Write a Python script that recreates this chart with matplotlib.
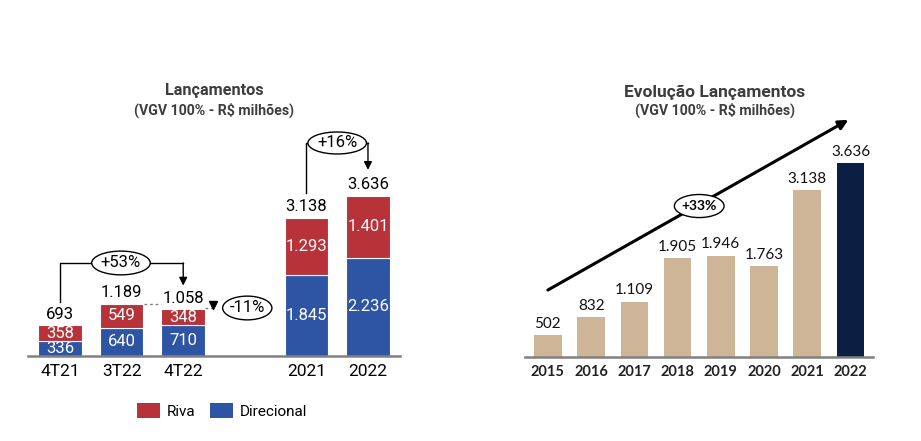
import matplotlib.pyplot as plt
from matplotlib.patches import Ellipse, Patch

# left chart data
periods = ['4T21', '3T22', '4T22', '2021', '2022']
pos = [0, 1, 2, 4, 5]
direcional = [336, 640, 710, 1845, 2236]
riva = [358, 549, 348, 1293, 1401]
totais = ['693', '1.189', '1.058', '3.138', '3.636']
totais_val = [693, 1189, 1058, 3138, 3636]

# right chart data
anos = ['2015', '2016', '2017', '2018', '2019', '2020', '2021', '2022']
lanc = [502, 832, 1109, 1905, 1946, 1763, 3138, 3636]

RED = '#B73239'
BLUE = '#2E55A4'
BEIGE = '#CFB597'
NAVY = '#0B1F45'
GRAY = '#808080'
TITLE = '#3d3d3d'

def fmt(v):
    return f'{v:,}'.replace(',', '.')

fig = plt.figure(figsize=(9.21, 4.41), dpi=100)

# ---------------- left: Lançamentos ----------------
ax = fig.add_axes([28/921, 85/441, 372/921, 296/441])
ax.bar(pos, direcional, width=0.71, color=BLUE, edgecolor='white', linewidth=0.8)
ax.bar(pos, riva, width=0.71, bottom=direcional, color=RED, edgecolor='white', linewidth=0.8)
for x, d, r, t, tv in zip(pos, direcional, riva, totais, totais_val):
    ax.text(x, d/2, fmt(d), ha='center', va='center', color='white', fontsize=12, family='Roboto')
    ax.text(x, d + r/2, fmt(r), ha='center', va='center', color='white', fontsize=12, family='Roboto')
    dy = 260 if t != '1.058' else 245
    ax.text(x, tv + dy, t, ha='center', va='center', color='black', fontsize=12, family='Roboto')

ax.set_xlim(-0.52, 5.52)
ax.set_ylim(0, 6727)
ax.set_xticks(pos)
ax.set_xticklabels(periods, family='Roboto', fontsize=12.5)
ax.tick_params(axis='x', length=0, pad=6)
ax.set_yticks([])
for s in ['top', 'right', 'left']:
    ax.spines[s].set_visible(False)
ax.spines['bottom'].set_color(GRAY)
ax.spines['bottom'].set_linewidth(1.8)

# +53% connector
ax.plot([0, 0, 2], [1227, 2114, 2114], color='black', lw=1)
ax.annotate('', xy=(2, 1600), xytext=(2, 2114),
            arrowprops=dict(arrowstyle='-|>', color='black', lw=1, mutation_scale=12, shrinkA=0, shrinkB=0))
ax.add_patch(Ellipse((0.99, 2114), 0.95, 540, facecolor='white', edgecolor='black', lw=1, zorder=3))
ax.text(0.99, 2114, '+53%', ha='center', va='center', fontsize=12, family='Roboto', zorder=4)

# +16% connector
ax.plot([4, 4, 5], [3705, 4841, 4841], color='black', lw=1)
ax.annotate('', xy=(5, 4230), xytext=(5, 4841),
            arrowprops=dict(arrowstyle='-|>', color='black', lw=1, mutation_scale=12, shrinkA=0, shrinkB=0))
ax.add_patch(Ellipse((4.5, 4841), 0.95, 500, facecolor='white', edgecolor='black', lw=1, zorder=3))
ax.text(4.5, 4841, '+16%', ha='center', va='center', fontsize=12, family='Roboto', zorder=4)

# -11% dotted reference
ax.plot([1.36, 1.64], [1189, 1189], color=GRAY, lw=1, ls=(0, (2, 2)))
ax.plot([2.36, 2.47], [1100, 1100], color=GRAY, lw=1, ls=(0, (2, 2)))
ax.plot([2.49], [1150], marker='v', color='black', markersize=6)
ax.add_patch(Ellipse((3.04, 1091), 0.8, 540, facecolor='white', edgecolor='black', lw=1, zorder=3))
ax.text(3.04, 1091, '-11%', ha='center', va='center', fontsize=12, family='Roboto', zorder=4)

fig.text(214/921, 1 - 91/441, 'Lançamentos', ha='center', va='center', fontsize=11.7,
         fontweight='bold', color=TITLE, family='Roboto')
fig.text(214/921, 1 - 110/441, '(VGV 100% - R$ milhões)', ha='center', va='center', fontsize=10.2,
         fontweight='bold', color=TITLE, family='Roboto')

handles = [Patch(facecolor=RED, label='Riva'), Patch(facecolor=BLUE, label='Direcional')]
fig.legend(handles=handles, loc='center', bbox_to_anchor=(222/921, 1 - 411/441), ncol=2,
           frameon=False, prop={'family': 'Roboto', 'size': 11}, handlelength=1.5,
           handleheight=1.1, handletextpad=0.4, columnspacing=1.0)

# ---------------- right: Evolução Lançamentos ----------------
ax2 = fig.add_axes([525/921, 84/441, 348/921, 297/441])
colors = [BEIGE] * (len(anos) - 1) + [NAVY]
ax2.bar(range(len(anos)), lanc, width=0.64, color=colors)
for i, v in enumerate(lanc):
    ax2.annotate(fmt(v), (i, v), xytext=(0, 3), textcoords='offset points', ha='center', va='bottom',
                 fontsize=11, family='Lato', color='#111111')
ax2.set_xlim(-0.53, 7.52)
ax2.set_ylim(100, 5510)
ax2.set_xticks(range(len(anos)))
ax2.set_xticklabels(anos, family='Lato', fontsize=10.5, fontweight='bold', color='#222222')
ax2.tick_params(axis='x', length=0, pad=6)
ax2.set_yticks([])
for s in ['top', 'right', 'left']:
    ax2.spines[s].set_visible(False)
ax2.spines['bottom'].set_color(GRAY)
ax2.spines['bottom'].set_linewidth(1.8)

ax2.annotate('', xy=(6.95, 4420), xytext=(0, 1320),
             arrowprops=dict(arrowstyle='-|>', color='black', lw=2.2, mutation_scale=14, shrinkA=0, shrinkB=0))
ax2.add_patch(Ellipse((3.5, 2850), 1.15, 420, facecolor='white', edgecolor='black', lw=1, zorder=3))
ax2.text(3.5, 2850, '+33%', ha='center', va='center', fontsize=10, fontweight='bold', family='Lato', zorder=4)

fig.text(715/921, 1 - 92/441, 'Evolução Lançamentos', ha='center', va='center', fontsize=12.5,
         fontweight='bold', color=TITLE, family='Roboto')
fig.text(715/921, 1 - 110/441, '(VGV 100% - R$ milhões)', ha='center', va='center', fontsize=10.2,
         fontweight='bold', color=TITLE, family='Roboto')

fig.savefig('out.png', dpi=100)
